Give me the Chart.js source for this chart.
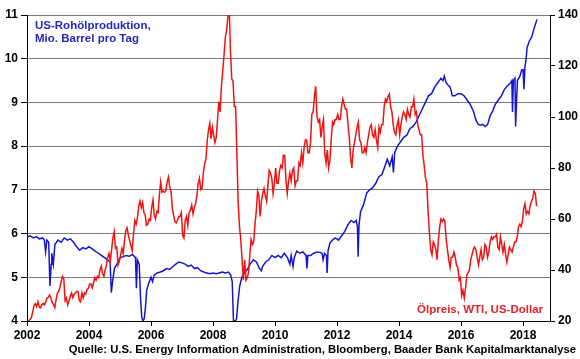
<!DOCTYPE html>
<html><head><meta charset="utf-8">
<script src="https://cdn.jsdelivr.net/npm/chart.js@4"></script>
<style>html,body{margin:0;padding:0;background:#fff}#wrap{width:580px;height:359px;position:relative}</style>
</head><body><div id="wrap"><canvas id="c" width="580" height="359"></canvas></div>
<script>
const yearTicks = [2002, 2004, 2006, 2008, 2010, 2012, 2014, 2016, 2018];
const prodTicks = [4, 5, 6, 7, 8, 9, 10, 11];
const priceTicks = [20, 40, 60, 80, 100, 120, 140];

const prodTitle = ['US-Rohölproduktion,', 'Mio. Barrel pro Tag'];
const priceTitle = 'Ölpreis, WTI, US-Dollar';
const sourceText = 'Quelle: U.S. Energy Information Administration, Bloomberg, Baader Bank Kapitalmarktanalyse';

// US crude production (mio. barrel/day), dates as decimal years
const prodDates = [
2002.00,2002.10,2002.20,2002.30,2002.40,2002.50,2002.56,2002.60,2002.64,2002.70,2002.74,2002.78,2002.80,2002.85,2002.90,
2003.00,2003.10,2003.20,2003.30,2003.40,2003.50,2003.60,2003.70,2003.80,2003.90,
2004.00,2004.10,2004.20,2004.30,2004.40,2004.50,2004.60,2004.68,2004.72,2004.76,2004.82,2004.90,
2005.00,2005.10,2005.20,2005.30,2005.40,2005.50,2005.53,2005.56,2005.62,2005.66,2005.70,2005.74,2005.78,2005.82,2005.86,2005.92,
2006.00,2006.05,2006.10,2006.20,2006.30,2006.40,2006.50,2006.60,2006.70,2006.80,2006.90,
2007.00,2007.10,2007.20,2007.30,2007.40,2007.50,2007.60,2007.70,2007.80,2007.90,
2008.00,2008.10,2008.20,2008.30,2008.40,2008.50,2008.57,2008.62,2008.66,2008.72,2008.76,2008.80,2008.86,2008.93,
2009.00,2009.10,2009.20,2009.30,2009.40,2009.50,2009.56,2009.60,2009.70,2009.80,2009.90,
2010.00,2010.10,2010.20,2010.30,2010.40,2010.48,2010.52,2010.58,2010.62,2010.70,2010.80,2010.90,
2011.00,2011.03,2011.06,2011.15,2011.25,2011.35,2011.45,2011.52,2011.55,2011.60,2011.66,2011.68,2011.71,2011.77,2011.85,2011.95,
2012.05,2012.15,2012.25,2012.35,2012.45,2012.55,2012.62,2012.66,2012.68,2012.71,2012.76,2012.85,2012.96,
2013.05,2013.15,2013.25,2013.35,2013.45,2013.55,2013.62,2013.70,2013.78,2013.82,2013.86,2013.95,
2014.05,2014.15,2014.25,2014.35,2014.45,2014.55,2014.65,2014.75,2014.85,2014.95,
2015.05,2015.15,2015.25,2015.35,2015.42,2015.46,2015.52,2015.58,2015.65,2015.72,2015.80,2015.90,
2016.00,2016.10,2016.20,2016.30,2016.40,2016.48,2016.55,2016.62,2016.70,2016.78,2016.86,2016.94,
2017.02,2017.10,2017.20,2017.30,2017.40,2017.50,2017.60,2017.64,2017.66,2017.69,2017.74,2017.76,2017.79,2017.82,2017.90,2017.96,
2018.00,2018.03,2018.06,2018.10,2018.13,2018.20,2018.28,2018.36,2018.45
];
const prodValues = [
5.92,5.95,5.90,5.93,5.88,5.90,5.85,5.58,5.85,5.80,4.80,5.30,5.55,5.30,5.75,
5.85,5.80,5.90,5.85,5.88,5.80,5.70,5.62,5.68,5.65,
5.70,5.65,5.60,5.55,5.50,5.45,5.40,5.35,4.65,4.90,5.20,5.30,
5.45,5.47,5.50,5.48,5.52,5.45,4.75,5.40,5.30,4.55,4.10,4.00,4.05,4.30,4.70,4.85,
5.00,4.90,5.05,5.10,5.12,5.15,5.20,5.18,5.24,5.30,5.35,
5.33,5.30,5.25,5.28,5.20,5.22,5.15,5.12,5.10,5.08,
5.10,5.08,5.10,5.12,5.10,5.12,5.05,4.90,4.00,4.00,4.05,4.40,4.80,5.00,
5.10,5.17,5.30,5.40,5.35,5.20,5.15,5.25,5.35,5.40,5.50,
5.45,5.50,5.45,5.55,5.45,5.30,5.50,5.25,5.45,5.60,5.55,5.58,
5.50,5.20,5.50,5.50,5.55,5.58,5.57,5.55,5.40,5.55,5.50,5.10,5.60,5.78,5.85,5.90,
5.85,5.95,6.05,6.20,6.30,6.25,6.30,6.15,5.47,6.20,6.50,6.65,6.93,
7.00,7.05,7.15,7.30,7.35,7.55,7.70,7.55,7.75,7.40,7.85,8.00,
8.10,8.20,8.25,8.40,8.45,8.55,8.70,8.85,9.00,9.15,
9.20,9.35,9.45,9.55,9.50,9.60,9.45,9.40,9.35,9.15,9.15,9.20,
9.20,9.15,9.05,8.95,8.80,8.60,8.50,8.48,8.50,8.45,8.50,8.70,
8.80,8.95,9.05,9.15,9.30,9.38,9.45,9.50,8.78,9.50,9.55,8.45,9.00,9.50,9.60,9.75,
9.75,9.30,9.80,10.00,10.25,10.40,10.50,10.70,10.90
];

// WTI oil price (USD), two readings per month from Jan 2002
const oilStartYear = 2002;
const oilPrice = [
19.8,20.2,20.6,21.5,23.8,26.2,26.8,25.6,27.6,25.4,25.2,26.4,26.9,26.3,27.5,29.0,29.3,30.2,29.0,27.3,26.5,25.2,28.3,30.9,
31.5,33.2,35.5,37.5,36.5,28.0,29.0,26.3,28.0,29.6,31.0,29.2,30.5,31.0,31.6,31.5,28.0,27.5,31.0,29.0,31.0,30.5,32.5,32.8,
34.5,34.5,33.0,35.0,37.0,36.0,37.5,37.0,40.0,41.5,38.5,37.5,40.0,42.0,45.0,46.5,43.5,48.0,52.5,55.0,48.5,49.0,42.0,43.5,
46.0,48.5,46.5,51.5,55.5,56.5,53.5,51.5,49.5,47.5,54.5,59.5,58.0,60.5,65.0,67.0,64.5,66.5,62.5,61.5,57.5,58.0,60.0,59.5,
64.5,67.5,61.5,60.0,63.0,62.5,69.5,74.5,70.5,71.0,70.5,71.0,74.5,76.5,72.5,71.0,64.0,61.5,59.0,58.5,59.5,61.0,61.0,62.5,
53.5,52.5,59.5,61.0,57.5,62.5,63.5,65.5,62.0,64.5,66.0,69.0,74.0,76.0,71.5,72.0,78.0,81.5,83.5,90.5,95.0,97.5,91.5,96.0,
93.0,90.0,92.0,99.0,106.0,102.0,112.0,118.0,124.0,131.0,134.0,139.0,145.0,126.0,115.0,114.0,104.0,104.0,85.0,66.0,57.0,52.0,44.0,36.0,
44.0,36.0,37.0,39.0,46.0,52.0,50.0,51.0,58.0,63.0,71.0,69.0,61.0,67.0,70.0,72.0,69.0,67.0,73.0,79.0,78.0,76.0,70.0,74.0,
80.0,74.0,74.0,79.0,81.0,80.0,85.0,85.0,75.0,70.0,75.0,78.0,75.0,79.0,80.0,73.0,75.0,75.0,82.0,81.0,86.0,82.0,88.0,91.0,
91.0,86.0,86.0,90.0,101.0,102.0,108.0,112.0,100.0,98.0,99.0,92.0,96.0,99.0,86.0,82.0,87.0,80.0,83.0,91.0,98.0,97.0,99.0,99.0,
101.0,99.0,99.0,104.0,107.0,105.0,103.0,103.0,97.0,92.0,84.0,80.0,87.0,90.0,93.0,96.0,98.0,91.0,90.0,86.0,86.0,88.0,86.0,90.0,
93.0,96.0,97.0,93.0,92.0,95.0,91.0,88.0,96.0,94.0,97.0,97.0,104.0,107.0,106.0,108.0,109.0,104.0,102.0,97.0,94.0,93.0,97.0,99.0,
93.0,97.0,100.0,102.0,101.0,99.0,103.0,101.0,100.0,104.0,104.0,107.0,101.0,102.0,97.0,95.0,93.0,93.0,85.0,81.0,76.0,74.0,63.0,55.0,
48.0,46.0,51.0,50.0,48.0,44.0,52.0,57.0,60.0,59.0,60.0,59.0,52.0,48.0,44.0,41.0,45.0,45.0,47.0,45.0,42.0,41.0,36.0,37.0,
30.0,32.0,29.0,33.0,38.0,39.0,40.0,44.0,46.0,48.0,49.0,48.0,45.0,42.0,45.0,48.0,44.0,45.0,50.0,49.0,45.0,47.0,51.0,53.0,
52.0,53.0,53.0,54.0,49.0,48.0,53.0,50.0,47.0,50.0,46.0,43.0,46.0,49.0,48.0,47.0,49.0,51.0,51.0,53.0,57.0,58.0,57.0,59.0,
64.0,66.0,62.0,63.0,62.0,65.0,67.0,68.0,71.0,70.0,65.0
];

const FONT = "'Liberation Sans', Arial, sans-serif";
const BLUE = '#1616D0';
const RED = '#F21212';

const fixTicks = vals => (s) => { s.ticks = vals.map(v => ({ value: v })); };

const textPlugin = {
  id: 'texts',
  afterDraw(chart) {
    const ctx = chart.ctx;
    ctx.save();
    ctx.textBaseline = 'middle';
    ctx.font = 'bold 11.5px ' + FONT;
    ctx.fillStyle = '#2828B8';
    ctx.textAlign = 'left';
    ctx.fillText(prodTitle[0], 35, 26);
    ctx.fillText(prodTitle[1], 35, 39);
    ctx.fillStyle = '#E2232A';
    ctx.textAlign = 'right';
    ctx.fillText(priceTitle, 543, 310);
    ctx.fillStyle = '#000';
    ctx.font = 'bold 11.3px ' + FONT;
    ctx.fillText(sourceText, 576, 350);
    ctx.restore();
  }
};

new Chart(document.getElementById('c'), {
  type: 'line',
  data: {
    datasets: [
      {
        label: priceTitle,
        data: oilPrice.map((v, i) => ({ x: oilStartYear + (i + 0.5) / 24, y: v })),
        yAxisID: 'y1',
        borderColor: RED,
        borderWidth: 1.5,
        pointRadius: 0,
        tension: 0,
        order: 0
      },
      {
        label: prodTitle.join(' '),
        data: prodDates.map((d, i) => ({ x: d, y: prodValues[i] })),
        yAxisID: 'y',
        borderColor: BLUE,
        borderWidth: 1.5,
        pointRadius: 0,
        tension: 0,
        order: 1
      }
    ]
  },
  options: {
    responsive: false,
    animation: false,
    devicePixelRatio: 1,
    layout: { padding: { top: 15, left: 0, right: 0, bottom: 0 } },
    plugins: { legend: { display: false }, tooltip: { enabled: false } },
    scales: {
      x: {
        type: 'linear', position: 'bottom', min: 2002, max: 2018.87,
        afterBuildTicks: fixTicks(yearTicks),
        afterFit: s => { s.height = 38; },
        ticks: { autoSkip: false, maxRotation: 0, padding: 2, color: '#000', font: { family: FONT, size: 12, weight: 'bold' }, callback: v => String(v) },
        grid: { drawOnChartArea: false, drawTicks: true, tickLength: 5, tickColor: '#000' },
        border: { display: true, color: '#000', width: 1 }
      },
      y: {
        type: 'linear', position: 'left', min: 4, max: 11,
        afterBuildTicks: fixTicks(prodTicks),
        afterFit: s => { s.width = 27; },
        ticks: { padding: 3, color: '#000', font: { family: FONT, size: 12, weight: 'bold' } },
        grid: { color: '#7a7a7a', lineWidth: 1, tickLength: 6, tickColor: '#000' },
        border: { display: true, color: '#000', width: 1 }
      },
      y1: {
        type: 'linear', position: 'right', min: 20, max: 140,
        afterBuildTicks: fixTicks(priceTicks),
        afterFit: s => { s.width = 30; },
        ticks: { padding: 3, color: '#000', font: { family: FONT, size: 12, weight: 'bold' } },
        grid: { drawOnChartArea: false, tickLength: 5, tickColor: '#000' },
        border: { display: true, color: '#000', width: 1 }
      }
    }
  },
  plugins: [textPlugin]
});
</script>
</body></html>
